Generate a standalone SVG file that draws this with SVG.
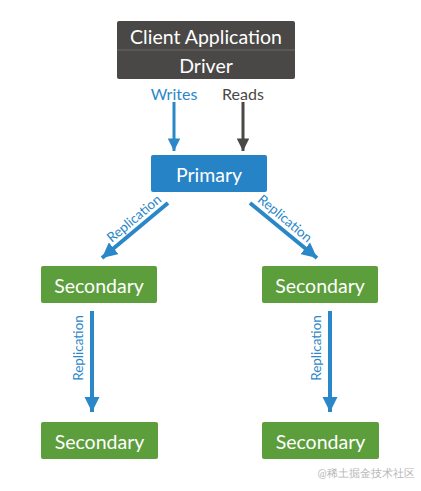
<svg xmlns="http://www.w3.org/2000/svg" width="421" height="491" viewBox="0 0 421 491">
<style>
text{font-family:Lato,"Open Sans","Noto Sans",sans-serif}
.bt{fill:#fff;font-size:19.5px;text-anchor:middle;dominant-baseline:central}
.rep{fill:#2a87c8;font-size:13.5px;text-anchor:middle}
.green{fill:#5c9e3c}
</style>
<defs>
<marker id="ab" viewBox="0 0 10 10" refX="10" refY="5" markerWidth="4.2" markerHeight="4.2" orient="auto" markerUnits="strokeWidth"><path d="M0,0 L10,5 L0,10 z" fill="#2a87c8"/></marker>
<marker id="ag" viewBox="0 0 10 10" refX="10" refY="5" markerWidth="4.2" markerHeight="4.2" orient="auto" markerUnits="strokeWidth"><path d="M0,0 L10,5 L0,10 z" fill="#4a4846"/></marker>
<marker id="ar" viewBox="0 0 10 10" refX="10" refY="5" markerWidth="3.8" markerHeight="3.8" orient="auto" markerUnits="strokeWidth"><path d="M0,0 L10,5 L0,10 z" fill="#2a87c8"/></marker>
</defs>
<rect width="421" height="491" fill="#fff"/>
<g id="client">
<rect x="117" y="21" width="178" height="58" rx="2" fill="#4a4846"/>
<line x1="117" y1="50" x2="295" y2="50" stroke="#6a6866" stroke-width="1"/>
<text class="bt" x="206" y="36">Client Application</text>
<text class="bt" x="206" y="65">Driver</text>
</g>
<g id="primary">
<rect x="151" y="155" width="116" height="37" rx="2" fill="#2683c6"/>
<text class="bt" x="209" y="174">Primary</text>
</g>
<g id="sec1"><rect class="green" x="41" y="266" width="116" height="37" rx="2"/><text class="bt" x="99" y="285">Secondary</text></g>
<g id="sec2"><rect class="green" x="262" y="266" width="116" height="37" rx="2"/><text class="bt" x="320" y="285">Secondary</text></g>
<g id="sec3"><rect class="green" x="41" y="422" width="117" height="37" rx="2"/><text class="bt" x="99.5" y="441">Secondary</text></g>
<g id="sec4"><rect class="green" x="262" y="422" width="117" height="37" rx="2"/><text class="bt" x="320.5" y="441">Secondary</text></g>
<g id="connectors">
<text x="174" y="99.5" fill="#2a87c8" font-size="16" text-anchor="middle">Writes</text>
<text x="243" y="99.5" fill="#4a4846" font-size="16" text-anchor="middle">Reads</text>
<line x1="174" y1="102" x2="174" y2="151" stroke="#2a87c8" stroke-width="3" marker-end="url(#ab)"/>
<line x1="243" y1="102" x2="243" y2="151" stroke="#4a4846" stroke-width="3" marker-end="url(#ag)"/>
<line x1="168" y1="203" x2="102" y2="258" stroke="#2a87c8" stroke-width="4" marker-end="url(#ar)"/>
<line x1="250" y1="203" x2="317" y2="258" stroke="#2a87c8" stroke-width="4" marker-end="url(#ar)"/>
<text class="rep" transform="translate(137,222) rotate(-40)">Replication</text>
<text class="rep" transform="translate(282,222) rotate(40)">Replication</text>
<line x1="92" y1="311" x2="92" y2="412" stroke="#2a87c8" stroke-width="4" marker-end="url(#ar)"/>
<line x1="330" y1="311" x2="330" y2="412" stroke="#2a87c8" stroke-width="4" marker-end="url(#ar)"/>
<text class="rep" font-size="14.5" transform="translate(82.5,348) rotate(-90)">Replication</text>
<text class="rep" font-size="14.5" transform="translate(320.5,348) rotate(-90)">Replication</text>
</g>
<text x="366" y="477" fill="#b8b8b8" font-size="11" text-anchor="middle" font-family="'Noto Sans CJK SC',sans-serif">@稀土掘金技术社区</text>
</svg>
